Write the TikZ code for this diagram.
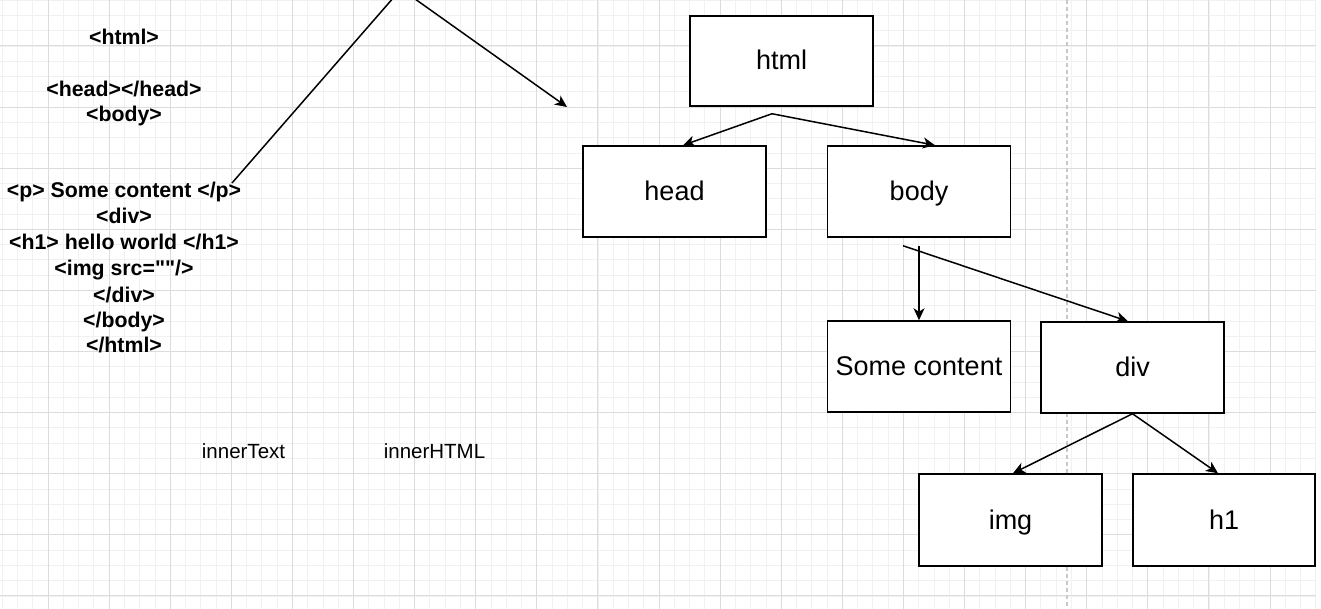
\documentclass[tikz,border=0pt]{standalone}
\usepackage{fontspec}
\setmainfont{Liberation Sans}[Ligatures=TeXOff]
\usetikzlibrary{arrows.meta,calc}
\definecolor{minorc}{HTML}{F1F1F1}
\definecolor{majorc}{HTML}{DCDCDC}
\definecolor{guidec}{HTML}{C8C8C8}
\tikzset{
  minorline/.style={minorc, line width=0.8},
  majorline/.style={majorc, line width=1},
  guide/.style={guidec, line width=1.5, dash pattern=on 4 off 3},
  box/.style={draw, line width=1.5, fill=white, minimum width=183, minimum height=91, inner sep=0,
    font=\fontsize{27}{31}\selectfont, text height=20, text depth=2},
  code/.style={anchor=base, inner sep=0, font=\fontsize{21.3}{25}\selectfont\bfseries},
  plain/.style={anchor=base, inner sep=0, font=\fontsize{20.5}{24}\selectfont},
  conn/.style={line width=1.5, -{Stealth[length=12, width=11, inset=3.5]}},
}
\begin{document}
\begin{tikzpicture}[x=1pt, y=-1pt]
\useasboundingbox (0,0) rectangle (1321,609);
\clip (0,0) rectangle (1321,609);
\fill[white] (0,0) rectangle (1321,609);
% grid
\foreach \k in {-3,...,83} \draw[minorline] ({48+15.275*\k},0) -- ++(0,609);
\foreach \k in {-3,...,36} \draw[minorline] (0,{46+15.275*\k}) -- (1316,{46+15.275*\k});
\foreach \k in {0,...,20} \draw[majorline] ({48+61.1*\k},0) -- ++(0,609);
\foreach \k in {0,...,9} \draw[majorline] (0,{46+61.1*\k}) -- (1316,{46+61.1*\k});
\draw[guide] (1067,0) -- (1067,609);

% left source text
\node[code] (t1) at (124,45) {<html>};
\node[code] (t2) at (124,97) {<head></head>};
\node[code] (t3) at (124,122) {<body>};
\node[code] (t4) at (124,198) {<p> Some content </p>};
\node[code] (t5) at (124,224) {<div>};
\node[code] (t6) at (124,250) {<h1> hello world </h1>};
\node[code] (t7) at (124,276) {<img src=""/>};
\node[code] (t8) at (124,302) {</div>};
\node[code] (t9) at (124,327) {</body>};
\node[code] (t10) at (124,352) {</html>};

\node[plain] (itext) at (243.5,458) {innerText};
\node[plain] (ihtml) at (434.5,458) {innerHTML};

% tree
\node[box, minimum height=90] (html) at (781.5,61) {html};
\node[box] (head) at (674.5,191.5) {head};
\node[box] (body) at (919,191.5) {body};
\node[box] (some) at (919,366.5) {Some content};
\node[box] (div) at (1132.5,367.5) {div};
\node[box, minimum height=92] (img) at (1010.5,520) {img};
\node[box, minimum width=182, minimum height=92] (h1) at (1224,520) {h1};

\coordinate (hout) at ($(html.south)+(-9.5,7)$);
\coordinate (bout1) at ($(body.south)+(0,8)$);
\coordinate (bout2) at ($(body.south)+(-16,8)$);
\coordinate (ptxt) at (232,183);
\coordinate (bendpt) at (401,-11);
\coordinate (freeend) at (567,107);

\draw[conn] (hout) -- ($(head.north)+(8.5,0)$);
\draw[conn] (hout) -- ($(body.north)+(16,0)$);
\draw[conn] (bout1) -- (some.north);
\draw[conn] (bout2) -- ($(div.north)+(-4.5,0)$);
\draw[conn] (div.south) -- ($(img.north)+(2.5,0)$);
\draw[conn] (div.south) -- ($(h1.north)+(-6,0)$);
\draw[conn] (ptxt) -- (bendpt) -- (freeend);
\end{tikzpicture}
\end{document}
